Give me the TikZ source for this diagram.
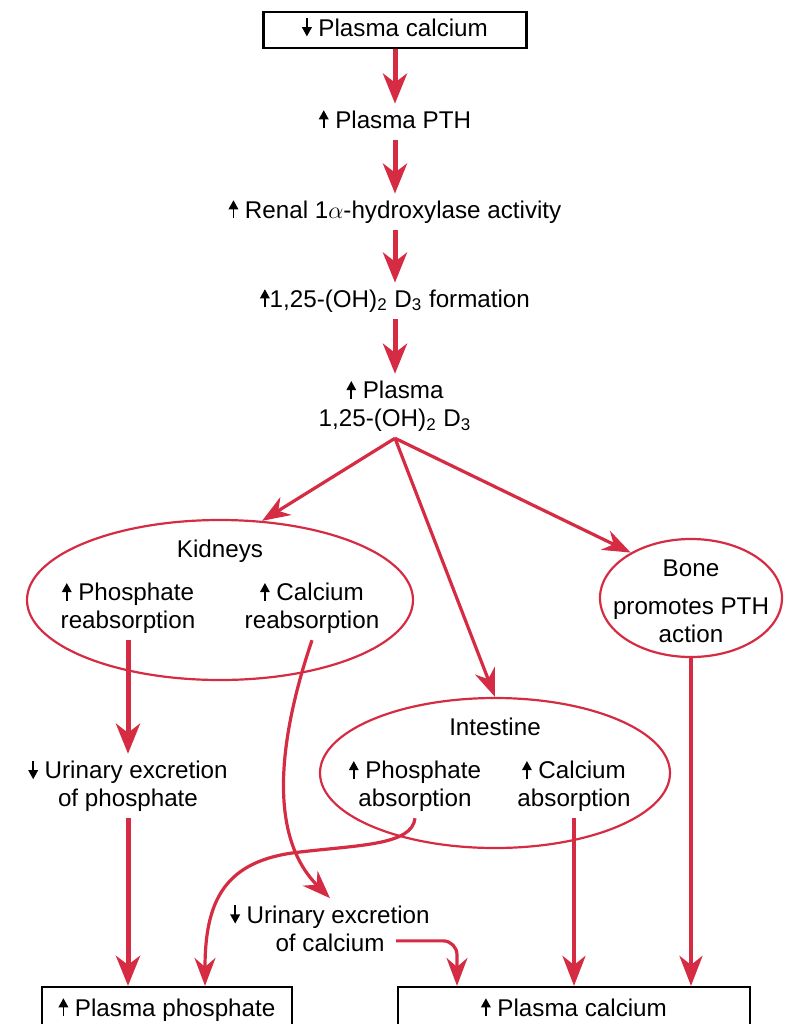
\documentclass[tikz,border=0pt]{standalone}
\usepackage{fontspec}
\setmainfont{Liberation Sans}
\usetikzlibrary{arrows.meta,shapes.geometric}
\definecolor{pthred}{RGB}{213,43,67}
\newcommand{\upar}{\tikz[baseline=0pt,x=1pt,y=1pt]\draw[black,line width=0.85pt,-{Triangle[length=4.6pt,width=4.8pt]}] (0,-0.2) -- (0,8.9);}
\newcommand{\dnar}{\tikz[baseline=0pt,x=1pt,y=1pt]\draw[black,line width=0.85pt,-{Triangle[length=4.6pt,width=4.8pt]}] (0,8.9) -- (0,-0.2);}

\begin{document}
\begin{tikzpicture}[x=0.5pt, y=-0.5pt,
  txt/.style={font=\fontsize{12.1}{14}\selectfont, text height=9pt, text depth=3pt, inner sep=3pt},
  lines/.style={font=\fontsize{12.1}{14}\selectfont, align=center, inner sep=3pt},
  frame/.style={txt, draw=black, line width=1.1pt},
  organ/.style={ellipse, draw=pthred, line width=1.1pt, inner sep=0pt},
  bigarr/.style={pthred, line width=2.5pt, -{Stealth[length=15pt,width=12pt,inset=4.5pt]}},
  midarr/.style={pthred, line width=2pt, -{Stealth[length=15pt,width=11.5pt,inset=4.5pt]}},
  thinarr/.style={pthred, line width=1.6pt, -{Stealth[length=14pt,width=10.5pt,inset=4.5pt]}}]
  \useasboundingbox (0,0) rectangle (790,1024);
  \clip (0,0) rectangle (790,1024);

  % main column
  \node[frame, minimum width=131.5pt, minimum height=18pt] (lowca) at (395,30) {\dnar\ Plasma calcium};
  \node[txt] (pth) at (395,122) {\upar\ Plasma PTH};
  \node[txt] (hydrox) at (395,212) {\upar\ Renal 1$\alpha$-hydroxylase activity};
  \node[txt] (form) at (395,301) {\upar1,25-(OH)\textsubscript{2} D\textsubscript{3} formation};
  \node[lines] (vitd) at (395,406) {\upar\ Plasma\\1,25-(OH)\textsubscript{2} D\textsubscript{3}};

  % kidneys
  \node[organ, minimum width=193pt, minimum height=80pt] (kidney) at (220,600) {};
  \node[txt] (kidlbl) at (220,551) {Kidneys};
  \node[lines] (kphos) at (128,608) {\upar\ Phosphate\\reabsorption};
  \node[lines] (kcal) at (312,608) {\upar\ Calcium\\reabsorption};
  \node[lines] (uphos) at (128,786) {\dnar\ Urinary excretion\\of phosphate};

  % intestine
  \node[organ, minimum width=175pt, minimum height=75pt] (gut) at (495,773) {};
  \node[txt] (gutlbl) at (495,729) {Intestine};
  \node[lines] (iphos) at (415,786) {\upar\ Phosphate\\absorption};
  \node[lines] (ical) at (574,786) {\upar\ Calcium\\absorption};
  \node[lines] (ucal) at (330,928) {\dnar\ Urinary excretion\\of calcium};

  % bone
  \node[organ, minimum width=91pt, minimum height=59pt] (bone) at (691,598) {};
  \node[txt] (bonelbl) at (691,570) {Bone};
  \node[lines] (pthact) at (691,620) {promotes PTH\\action};

  % results
  \node[frame, minimum width=125pt, minimum height=23pt] (hiphos) at (167,1010) {\upar\ Plasma phosphate};
  \node[frame, minimum width=176pt, minimum height=23pt] (hica) at (574,1010) {\upar\ Plasma calcium};

  \draw[bigarr] (lowca.south) -- (pth.north);
  \draw[bigarr] (pth.south) -- (hydrox.north);
  \draw[bigarr] (hydrox.south) -- (form.north);
  \draw[bigarr] (form.south) -- (vitd.north);

  \draw[thinarr] (vitd.south) -- (kidney.62);
  \draw[thinarr] (vitd.south) -- (gut.north);
  \draw[thinarr] (vitd.south) -- (bone.143);

  \draw[bigarr] (kphos.south) -- (uphos.north);
  \draw[bigarr] (uphos.south) -- (uphos.south |- hiphos.north);
  \draw[thinarr] (kcal.south) .. controls (285,720) and (262,830) .. (ucal.north);
  \draw[thinarr] (iphos.south) .. controls (412,845) and (360,845) .. (300,852)
    .. controls (225,860) and (205,900) .. ([xshift=19pt]hiphos.north);
  \draw[thinarr, rounded corners=7pt] ([xshift=33pt,yshift=8.5pt]ucal.south) -| ([xshift=-58.5pt]hica.north);
  \draw[midarr] (ical.south) -- (ical.south |- hica.north);
  \draw[midarr] (bone.south) -- (bone.south |- hica.north);
\end{tikzpicture}
\end{document}
